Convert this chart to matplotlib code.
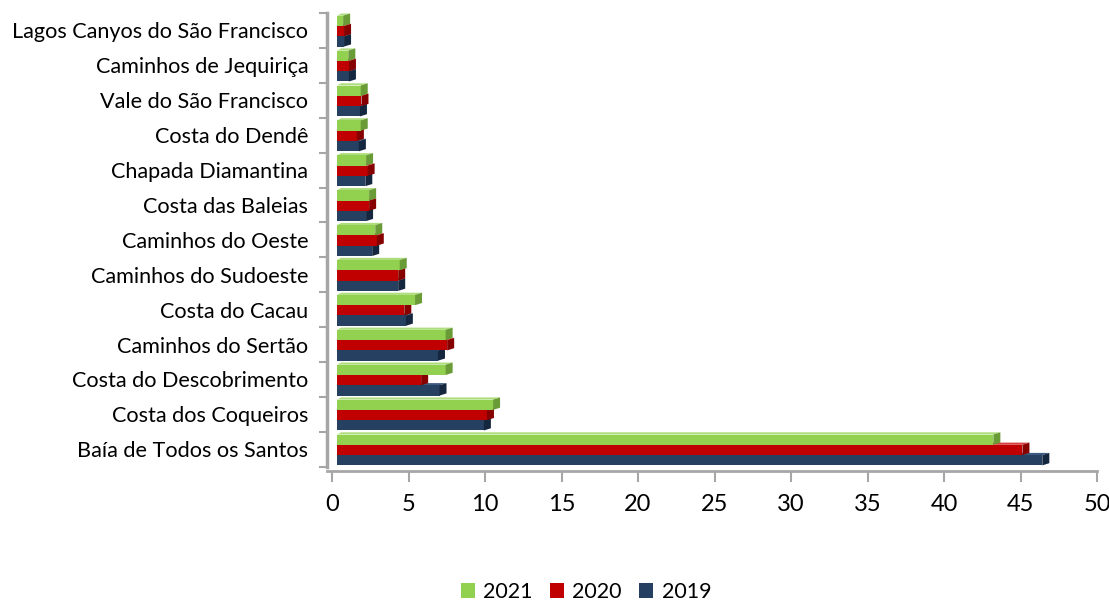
import matplotlib
matplotlib.use('Agg')
import matplotlib.pyplot as plt
from matplotlib.patches import Polygon, Patch
import numpy as np

categories = ['Baía de Todos os Santos', 'Costa dos Coqueiros', 'Costa do Descobrimento',
              'Caminhos do Sertão', 'Costa do Cacau', 'Caminhos do Sudoeste',
              'Caminhos do Oeste', 'Costa das Baleias', 'Chapada Diamantina',
              'Costa do Dendê', 'Vale do São Francisco', 'Caminhos de Jequiriça',
              'Lagos Canyos do São Francisco']
v2021 = [42.9, 10.2, 7.1, 7.1, 5.1, 4.1, 2.5, 2.1, 1.9, 1.55, 1.55, 0.74, 0.4]
v2020 = [44.8, 9.8, 5.5, 7.2, 4.4, 4.0, 2.6, 2.1, 2.0, 1.3, 1.6, 0.78, 0.46]
v2019 = [46.1, 9.6, 6.7, 6.6, 4.5, 4.0, 2.3, 1.9, 1.85, 1.43, 1.5, 0.78, 0.46]
series_names = ['2021', '2020', '2019']
xticks = [0, 5, 10, 15, 20, 25, 30, 35, 40, 45, 50]

plt.rcParams['font.family'] = ['Lato', 'DejaVu Sans']

W, H = 1109, 601
fig = plt.figure(figsize=(W / 100, H / 100), dpi=100)
ax_left, ax_right, ax_top, ax_bot = 327, 1097, 13, 466.7
ax = fig.add_axes([ax_left / W, (H - ax_bot) / H, (ax_right - ax_left) / W, (ax_bot - ax_top) / H])

px_per_x = (ax_right - ax_left) / (50 + 5 / 15.3)
x_min = -5 / px_per_x
ax.set_xlim(x_min, 50)
ax.set_ylim(-0.5, len(categories) - 0.5)
px_per_y = (ax_bot - ax_top) / len(categories)

x0 = 5 / px_per_x          # 3D offset of front faces
dx = 7 / px_per_x          # depth to the right
dy = 2.2 / px_per_y        # depth upward
h = 0.295
offsets = [h, 0.0, -h]
fronts = ['#92D050', '#C00000', '#254061']
sides = ['#699B36', '#860000', '#15273F']
tops = ['#AEDD7C', '#D84040', '#3C5A80']
data = [v2021, v2020, v2019]

y = np.arange(len(categories)) - 0.02
# draw bottom series first so upper ones cover hidden faces
for j in [2, 1, 0]:
    vals = np.array(data[j])
    yc = y + offsets[j]
    z = 3 + (2 - j)
    ax.barh(yc, vals, left=x0, height=h, color=fronts[j], edgecolor='none', zorder=z)
    for yy, v in zip(yc, vals):
        xe = x0 + v
        yb, yt = yy - h / 2, yy + h / 2
        side = Polygon([(xe, yb), (xe + dx, yb + dy), (xe + dx, yt + dy), (xe, yt)],
                       closed=True, facecolor=sides[j], edgecolor='none', zorder=z)
        ax.add_patch(side)
        top = Polygon([(x0, yt), (x0 + dx * 0.6, yt + dy), (xe + dx, yt + dy), (xe, yt)],
                      closed=True, facecolor=tops[j], edgecolor='none', zorder=z - 0.5)
        ax.add_patch(top)

for s in ['top', 'right']:
    ax.spines[s].set_visible(False)
ax.spines['left'].set_color('#A6A6A6')
ax.spines['left'].set_linewidth(2.5)
ax.spines['bottom'].set_color('#A6A6A6')
ax.spines['bottom'].set_linewidth(2.0)
ax.spines['bottom'].set_position(('outward', 3))

ax.set_yticks(np.arange(len(categories)))
ax.set_yticklabels(categories, fontsize=15.6)
ax.set_yticks(np.arange(len(categories) + 1) - 0.5, minor=True)
ax.tick_params(axis='y', which='major', length=0, pad=13.5, labelcolor='#000000')
ax.tick_params(axis='y', which='minor', length=6, width=1.5, color='#A6A6A6', direction='out')

ax.set_xticks(xticks)
ax.set_xticklabels([str(t) for t in xticks], fontsize=17)
ax.tick_params(axis='x', which='major', length=8, width=1.5, color='#A6A6A6', direction='out', pad=9)

handles = [Patch(facecolor=fronts[j], edgecolor='none') for j in range(3)]
fig.legend(handles, series_names, loc='center', bbox_to_anchor=(586 / W, 1 - 592 / H),
           ncol=3, frameon=False, fontsize=15.5, handlelength=0.65, handleheight=0.65,
           handletextpad=0.4, columnspacing=0.8)

fig.savefig('out.png', dpi=100)
